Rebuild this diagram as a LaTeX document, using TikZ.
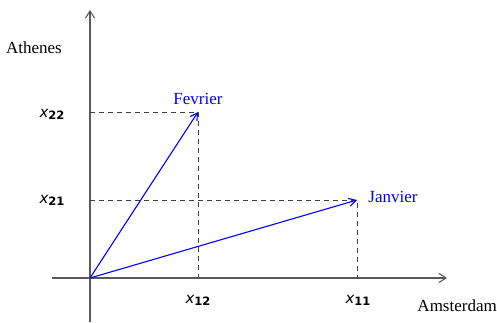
\documentclass[tikz,border=0pt]{standalone}
\usepackage{fontspec}
\setmainfont{Liberation Serif}
\newfontfamily\labfont{DejaVu Sans}
\usetikzlibrary{arrows.meta}
\newcommand{\xlab}[1]{{\fontsize{15}{17}\selectfont\labfont\itshape x}\raisebox{-0.45ex}{\fontsize{11.5}{13}\selectfont\labfont\bfseries #1}}
\tikzset{
    axe/.style={line width=1.1pt, draw=black!65, -{Straight Barb[length=7pt, width=9pt]}},
    proj/.style={dashed, dash pattern=on 5pt off 4pt, line width=0.8pt, draw=black!75},
    vect/.style={line width=1.1pt, draw=blue, -{Straight Barb[length=7pt, width=8pt]}},
    nom/.style={font=\fontsize{17}{20}\selectfont},
}
\begin{document}
\begin{tikzpicture}[x=1pt, y=1pt]
    \useasboundingbox (0,0) rectangle (497,323);
    % axes
    \coordinate (O) at (90,45);
    \coordinate (haut) at (90,313);
    \coordinate (bas) at (90,1);
    \coordinate (gauche) at (52,45);
    \coordinate (droite) at (447,45);
    \draw[axe] (bas) -- (haut);
    \draw[axe] (gauche) -- (droite);
    \node[nom] (ath) at (34,275) {Athenes};
    \node[nom, anchor=east, inner sep=0pt] (ams) at (497,17) {Amsterdam};

    % extremites des vecteurs
    \coordinate (janv) at (357,123);
    \coordinate (fevr) at (198,211);
    \coordinate (janvx) at (357,45);
    \coordinate (janvy) at (90,123);
    \coordinate (fevrx) at (198,45);
    \coordinate (fevry) at (90,211);

    % projections
    \draw[proj] (fevry) -- (fevr) -- (fevrx);
    \draw[proj] (janvy) -- (janv) -- (janvx);

    % vecteurs
    \draw[vect] (O) -- (fevr);
    \draw[vect] (O) -- (janv);
    \node[nom, text=blue] (lfev) at (198,224) {Fevrier};
    \node[nom, text=blue] (ljan) at (393,126) {Janvier};

    % composantes
    \node (x22) at (52,209) {\xlab{22}};
    \node (x21) at (52,123) {\xlab{21}};
    \node (x12) at (198,23) {\xlab{12}};
    \node (x11) at (358,23) {\xlab{11}};
\end{tikzpicture}
\end{document}
